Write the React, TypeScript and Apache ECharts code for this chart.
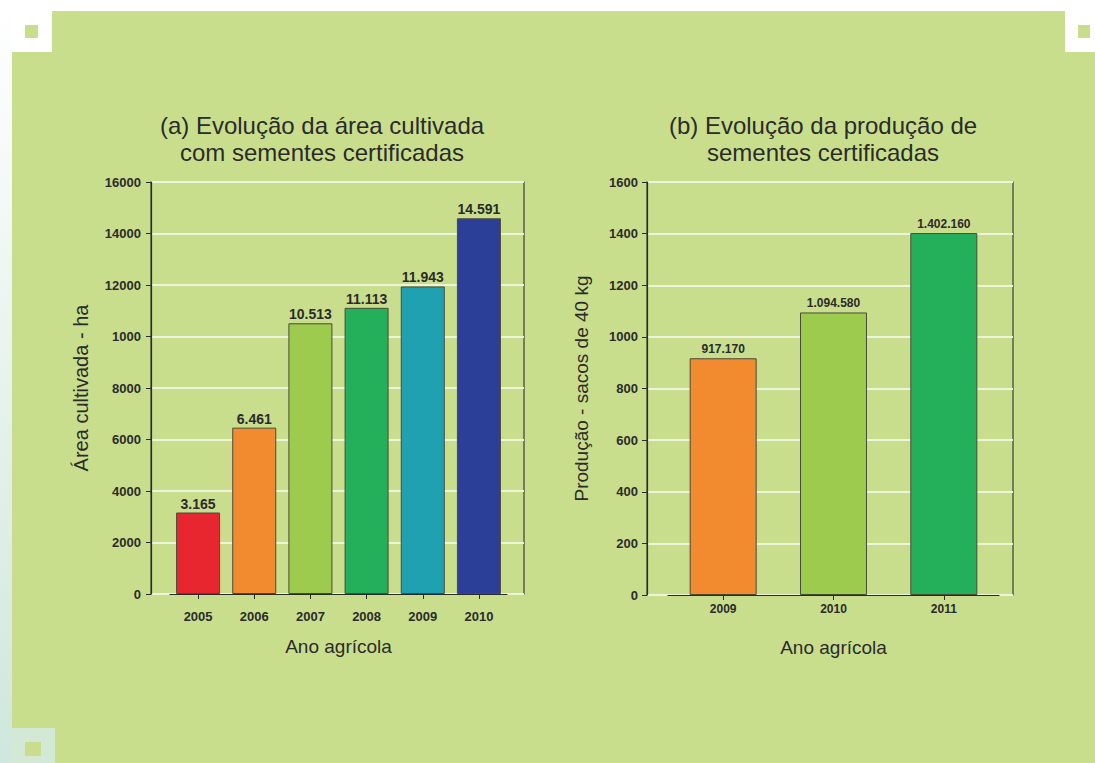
import React, { useEffect, useRef } from "react";
import * as echarts from "echarts";

// ---- Data ----
const areaYears = ["2005", "2006", "2007", "2008", "2009", "2010"];
const areaValues = [3165, 6461, 10513, 11113, 11943, 14591];
const areaColors = ["#e8262f", "#f28a30", "#9dcb4e", "#24b05b", "#20a1b1", "#2b3e98"];
const areaTickLabels: Record<number, string> = {
  0: "0", 2000: "2000", 4000: "4000", 6000: "6000", 8000: "8000",
  10000: "1000", 12000: "12000", 14000: "14000", 16000: "16000",
};

const prodYears = ["2009", "2010", "2011"];
const prodValues = [917170, 1094580, 1402160];
const prodColors = ["#f28a30", "#9dcb4e", "#24b05b"];

const titleA = "(a) Evolução da área cultivada\ncom sementes certificadas";
const titleB = "(b) Evolução da produção de\nsementes certificadas";

const FONT = "Liberation Sans, Arial, Helvetica, sans-serif";
const GREEN_BG = "#c9de8d";
const GRIDLINE = "#eef4da";
const DARK = "#2b2b2b";

function fmtThousands(v: number): string {
  return String(Math.round(v)).replace(/\B(?=(\d{3})+(?!\d))/g, ".");
}

export default function App() {
  const ref = useRef<HTMLDivElement>(null);
  useEffect(() => {
    if (!ref.current) return;
    const chart = echarts.init(ref.current, undefined, { renderer: "svg" });

    const frameY = (gridIndex: number, max: number, interval: number, fontSize: number, margin: number, fmt: (v: number) => string, name: string, nameGap: number, nameSize: number) => ({
      gridIndex,
      type: "value",
      min: 0,
      max,
      interval,
      name,
      nameLocation: "middle",
      nameGap,
      nameTextStyle: { fontFamily: FONT, fontSize: nameSize, color: DARK },
      axisLine: { show: true, lineStyle: { color: DARK, width: 1.2 } },
      axisTick: { show: true, length: 5, lineStyle: { color: DARK } },
      axisLabel: { fontFamily: FONT, fontSize, fontWeight: "bold", color: DARK, margin, formatter: fmt },
      splitLine: { show: true, lineStyle: { color: GRIDLINE, width: 2 } },
    });

    const hiddenY = (gridIndex: number, max: number) => ({
      gridIndex, type: "value", min: 0, max, show: false, splitLine: { show: false },
    });

    const catX = (gridIndex: number, data: string[], fontSize: number, margin: number) => ({
      gridIndex,
      type: "category",
      data,
      boundaryGap: true,
      name: "Ano agrícola",
      nameLocation: "middle",
      nameGap: 43,
      nameTextStyle: { fontFamily: FONT, fontSize: 19, color: DARK },
      axisLine: { show: true, lineStyle: { color: DARK, width: 1.2 } },
      axisTick: { show: true, alignWithLabel: true, length: 5, lineStyle: { color: DARK } },
      axisLabel: { fontFamily: FONT, fontSize, fontWeight: "bold", color: DARK, margin },
      splitLine: { show: false },
    });

    const titleStyle = { fontFamily: FONT, fontSize: 24, fontWeight: "normal", color: DARK, lineHeight: 27, align: "center" };

    chart.setOption({
      animation: false,
      backgroundColor: "#ffffff",
      graphic: [
        { type: "rect", silent: true, z: -10, shape: { x: 0, y: 0, width: 12, height: 763 },
          style: { fill: new echarts.graphic.LinearGradient(0, 0, 0, 1, [
            { offset: 0, color: "#ffffff" }, { offset: 1, color: "#cfe7dc" }]) } },
        { type: "polygon", silent: true, z: -10,
          shape: { points: [[52, 11], [1065, 11], [1065, 52], [1095, 52], [1095, 763], [55, 763], [55, 728], [12, 728], [12, 52], [52, 52]] },
          style: { fill: GREEN_BG } },
        { type: "rect", silent: true, z: -10, shape: { x: 25, y: 25, width: 13, height: 13 }, style: { fill: GREEN_BG } },
        { type: "rect", silent: true, z: -10, shape: { x: 1078, y: 25, width: 12, height: 13 }, style: { fill: GREEN_BG } },
        { type: "rect", silent: true, z: -10, shape: { x: 12, y: 728, width: 43, height: 35 }, style: { fill: "#d3e9d6" } },
        { type: "rect", silent: true, z: -10, shape: { x: 25, y: 742, width: 16, height: 14 }, style: { fill: GREEN_BG } },
      ],
      title: [
        { text: titleA, left: 322, top: 112, padding: 0, textAlign: "center", textStyle: titleStyle },
        { text: titleB, left: 823, top: 112, padding: 0, textAlign: "center", textStyle: titleStyle },
      ],
      grid: [
        { left: 151, top: 182, width: 373, height: 412, show: true, borderColor: "#3c3c30", borderWidth: 1.2, backgroundColor: "transparent" },
        { left: 170, top: 182, width: 337, height: 412 },
        { left: 647, top: 182, width: 366, height: 413, show: true, borderColor: "#3c3c30", borderWidth: 1.2, backgroundColor: "transparent" },
        { left: 668, top: 182, width: 331, height: 413 },
      ],
      xAxis: [
        { gridIndex: 0, type: "value", min: 0, max: 1, show: false },
        catX(1, areaYears, 13, 16),
        { gridIndex: 2, type: "value", min: 0, max: 1, show: false },
        catX(3, prodYears, 12, 8),
      ],
      yAxis: [
        frameY(0, 16000, 2000, 13, 10, (v: number) => areaTickLabels[v] ?? String(v), "Área cultivada - ha", 60, 20),
        hiddenY(1, 16000),
        frameY(2, 1600000, 200000, 13, 9, (v: number) => String(v / 1000), "Produção - sacos de 40 kg", 56, 19),
        hiddenY(3, 1600000),
      ],
      series: [
        {
          type: "bar",
          xAxisIndex: 1,
          yAxisIndex: 1,
          barWidth: 44,
          data: areaValues.map((v, i) => ({ value: v, itemStyle: { color: areaColors[i] } })),
          itemStyle: { borderColor: "#4a4a3a", borderWidth: 1 },
          label: { show: true, position: "top", distance: 2, fontFamily: FONT, fontSize: 14, fontWeight: "bold", color: DARK,
            formatter: (p: any) => fmtThousands(p.value) },
        },
        {
          type: "bar",
          xAxisIndex: 3,
          yAxisIndex: 3,
          barWidth: 67,
          data: prodValues.map((v, i) => ({ value: v, itemStyle: { color: prodColors[i] } })),
          itemStyle: { borderColor: "#4a4a3a", borderWidth: 1 },
          label: { show: true, position: "top", distance: 3, fontFamily: FONT, fontSize: 12, fontWeight: "bold", color: DARK,
            formatter: (p: any) => fmtThousands(p.value) },
        },
      ],
    });
    return () => chart.dispose();
  }, []);
  return (
    <div
      ref={ref}
      style={{ position: "fixed", left: 0, top: 0, width: 1095, height: 763 }}
    />
  );
}
